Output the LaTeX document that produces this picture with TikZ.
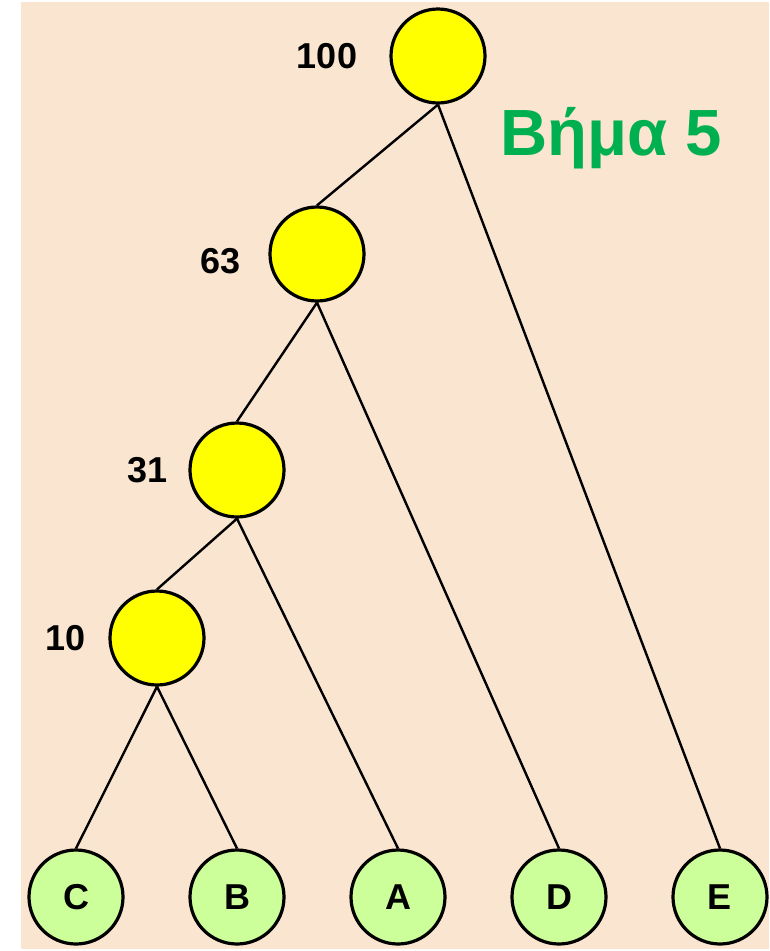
\documentclass[tikz,border=0pt]{standalone}
\usepackage{fontspec}
\setmainfont{Liberation Sans}
\definecolor{peach}{RGB}{250,229,208}
\definecolor{leafgreen}{RGB}{204,255,153}
\definecolor{titlegreen}{RGB}{0,176,80}
\definecolor{nodeyellow}{RGB}{255,255,0}

\begin{document}
\begin{tikzpicture}[x=0.75pt,y=-0.75pt,
    merge/.style={circle,draw,line width=2.4pt,fill=nodeyellow,minimum size=70.5pt,inner sep=0pt},
    leaf/.style={circle,draw,line width=2.4pt,fill=leafgreen,minimum size=70.5pt,inner sep=0pt,font=\fontsize{27}{27}\selectfont\bfseries},
    height/.style={font=\fontsize{27}{27}\selectfont\bfseries}]
      \useasboundingbox[fill=white] (0,0) rectangle (769,951);
      \fill[peach] (21,2) rectangle (769,949);
      \foreach \pos/\name/\lpos/\val in {{(438,56)/n100/(327,56)/100}, {(317,254)/n63/(221,261)/63}, {(237,470)/n31/(148,470)/31}, {(157,638)/n10/(66,638)/10}}
      {
      \node[merge] (\name) at \pos {};
      \node[height] (l\name) at \lpos {\val};
      }
      \foreach \pos/\name in {{(76,897)/C}, {(237,897)/B}, {(398,897)/A}, {(559,897)/D}, {(720,897)/E}}
      \node[leaf] (\name) at \pos {\name};
      \node[font=\fontsize{49}{49}\selectfont\bfseries,text=titlegreen,anchor=base] (title) at (611,155) {Βήμα 5};
      \foreach \source/ \dest in {n100/n63, n100/E, n63/n31, n63/D, n31/n10, n31/A, n10/C, n10/B}
      \path[draw,line width=1.8pt] (\source.south) -- (\dest.north);
    \end{tikzpicture}
\end{document}
